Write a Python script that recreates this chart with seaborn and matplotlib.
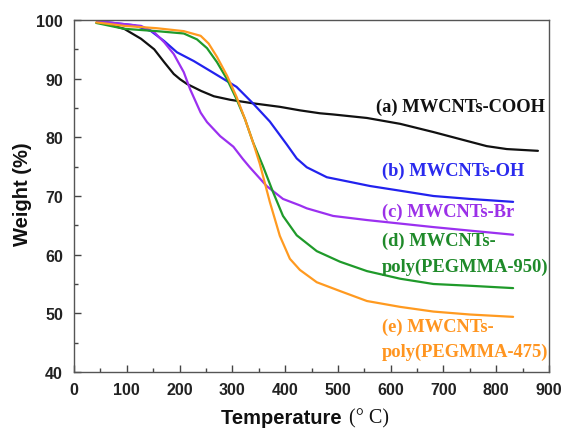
import matplotlib
matplotlib.use("Agg")
import matplotlib.pyplot as plt
import seaborn as sns
import pandas as pd
from matplotlib.ticker import MultipleLocator

sns.set_theme(style="white")
plt.rcParams['font.family'] = ['Liberation Sans', 'DejaVu Sans']

# (a) MWCNTs-COOH
temp_a = [44, 95, 127, 152, 171, 189, 201, 214, 241, 265, 296, 339, 390, 428, 466, 491, 555, 618, 681, 744, 782, 820, 879]
wt_a = [99.8, 98.5, 96.8, 95.0, 92.8, 90.8, 89.9, 89.1, 87.9, 87.0, 86.4, 85.8, 85.2, 84.6, 84.1, 83.9, 83.3, 82.3, 80.9, 79.4, 78.5, 78.0, 77.7]
# (b) MWCNTs-OH
temp_b = [44, 114, 146, 171, 195, 227, 264, 308, 339, 371, 403, 422, 441, 479, 523, 561, 618, 681, 750, 832]
wt_b = [99.8, 99.1, 98.1, 96.4, 94.5, 93.0, 91.0, 88.6, 85.8, 82.7, 78.8, 76.4, 74.9, 73.2, 72.4, 71.7, 70.9, 70.0, 69.5, 69.0]
# (c) MWCNTs-Br
temp_c = [44, 127, 152, 171, 189, 208, 220, 240, 252, 277, 302, 320, 333, 365, 396, 428, 441, 491, 555, 618, 681, 750, 832]
wt_c = [99.8, 99.0, 97.9, 96.2, 94.2, 91.1, 88.2, 84.2, 82.6, 80.2, 78.4, 76.3, 74.9, 71.7, 69.5, 68.4, 67.9, 66.6, 65.9, 65.3, 64.7, 64.1, 63.4]
# (d) MWCNTs-poly(PEGMMA-950)
temp_d = [42, 95, 157, 208, 233, 252, 271, 290, 308, 324, 339, 358, 377, 396, 422, 460, 504, 555, 618, 681, 750, 832]
wt_d = [99.5, 98.5, 98.1, 97.7, 96.7, 95.2, 92.8, 89.9, 86.5, 83.1, 79.2, 75.1, 70.7, 66.6, 63.3, 60.6, 58.8, 57.2, 55.9, 55.0, 54.7, 54.3]
# (e) MWCNTs-poly(PEGMMA-475)
temp_e = [42, 95, 157, 208, 240, 255, 271, 290, 308, 324, 339, 352, 371, 390, 409, 428, 460, 504, 555, 618, 681, 750, 832]
wt_e = [99.6, 99.0, 98.6, 98.1, 97.3, 96.0, 93.7, 90.5, 86.9, 83.1, 79.2, 75.5, 69.0, 63.2, 59.3, 57.4, 55.3, 53.8, 52.1, 51.1, 50.3, 49.8, 49.4]

names = ["(a) MWCNTs-COOH", "(b) MWCNTs-OH", "(c) MWCNTs-Br",
         "(d) MWCNTs-\npoly(PEGMMA-950)", "(e) MWCNTs-\npoly(PEGMMA-475)"]
line_colors = ["#111111", "#2222ee", "#9b30f0", "#1f9a2a", "#ff9a20"]
text_colors = ["#111111", "#2a2aee", "#9b30e8", "#1f8a2a", "#ff9520"]

series = [(temp_a, wt_a), (temp_b, wt_b), (temp_c, wt_c), (temp_d, wt_d), (temp_e, wt_e)]
frames = []
for n, (t, w) in zip(names, series):
    frames.append(pd.DataFrame({"T": t, "W": w, "name": n}))
df = pd.concat(frames, ignore_index=True)

fig = plt.figure(figsize=(5.67, 4.31), dpi=100)
ax = fig.add_axes([74 / 567, 1 - 373 / 431, 475 / 567, 352 / 431])
sns.lineplot(data=df, x="T", y="W", hue="name", palette=dict(zip(names, line_colors)),
             linewidth=1.6, ax=ax, legend=False, sort=False)

ax.set_xlim(0, 900)
ax.set_ylim(40, 100)
ax.xaxis.set_major_locator(MultipleLocator(100))
ax.xaxis.set_minor_locator(MultipleLocator(50))
ax.yaxis.set_major_locator(MultipleLocator(10))
ax.yaxis.set_minor_locator(MultipleLocator(5))
ax.tick_params(which="major", direction="in", length=5, width=1, color="#444444",
               labelsize=11.5, bottom=True, left=True, top=False, right=False)
ax.tick_params(axis="x", which="major", pad=7)
ax.tick_params(axis="y", which="major", pad=8)
ax.tick_params(which="minor", direction="in", length=3, width=1, color="#444444",
               bottom=True, left=True, top=False, right=False)
for lab in ax.get_xticklabels() + ax.get_yticklabels():
    lab.set_fontweight("bold")
    lab.set_color("#222222")
for s in ax.spines.values():
    s.set_color("#555555")
    s.set_linewidth(1.0)
ax.set_xlabel("")
ax.set_ylabel("")

serif = ['Liberation Serif', 'DejaVu Serif']
# axis titles
fig.text(347 / 567, 1 - 419 / 431, "Temperature ", ha="right", va="center",
         fontsize=14.5, fontweight="bold", color="#111111")
fig.text(349 / 567, 1 - 419 / 431, "(° C)", ha="left", va="center",
         fontsize=14.5, color="#111111", family=serif)
fig.text(23 / 567, 1 - 194 / 431, "Weight (%)", ha="center", va="center", rotation=90,
         fontsize=14.5, fontweight="bold", color="#111111")

# series labels, one line at a time
label_pos = [(545, [107], "right"), (382, [171], "left"), (382, [212], "left"),
             (382, [241, 267], "left"), (382, [327, 352], "left")]
for n, c, (px, pys, ha) in zip(names, text_colors, label_pos):
    for line, py in zip(n.split("\n"), pys):
        fig.text(px / 567, 1 - py / 431, line, ha=ha, va="center", color=c,
                 fontsize=13.3, fontweight="bold", family=serif)

fig.savefig("out.png", dpi=100)
